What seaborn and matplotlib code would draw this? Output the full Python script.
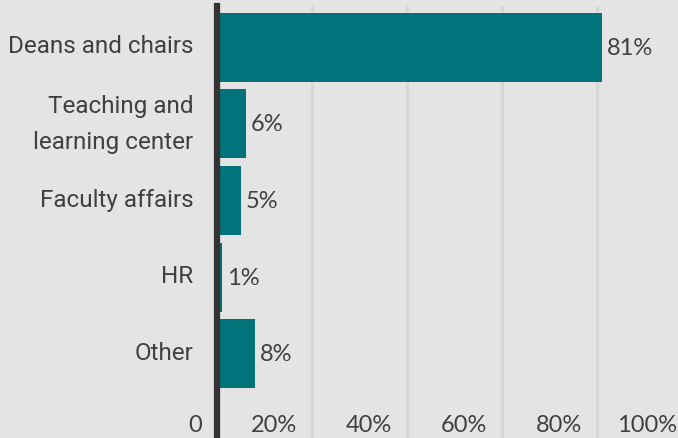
import matplotlib
matplotlib.use("Agg")
import matplotlib.pyplot as plt
import matplotlib.transforms as mtransforms
import pandas as pd
import seaborn as sns

# data
categories = ["Deans and chairs", "Teaching and\nlearning center", "Faculty affairs", "HR", "Other"]
shares = [81, 6, 5, 1, 8]
x_ticks = [0, 20, 40, 60, 80, 100]
x_tick_labels = ["0", "20%", "40%", "60%", "80%", "100%"]

df = pd.DataFrame({"category": categories, "share": shares})

bg = "#e4e4e4"
teal = "#02737a"
text_col = "#404040"

sns.set_theme(style="white")
plt.rcParams["font.family"] = ["Roboto", "DejaVu Sans"]

fig = plt.figure(figsize=(6.78, 4.39), dpi=100, facecolor=bg)
W, H = 678, 439
ax = fig.add_axes([217 / W, 0, 475 / W, (439 - 7) / H])
ax.set_facecolor(bg)

sns.barplot(data=df, x="share", y="category", color=teal, width=0.9,
            saturation=1, linewidth=0, edgecolor="none", ax=ax, zorder=3)

ax.set_xlim(0, 100)
ax.set_ylim(5.1, -0.54)
ax.set_xlabel("")
ax.set_ylabel("")

# gridlines and x labels (drawn inside the plot area, left of each line)
ax.set_xticks(x_ticks)
ax.set_xticklabels(x_tick_labels, fontfamily="Lato", fontsize=17, color=text_col)
ax.grid(axis="x", color="#d6d6d6", linewidth=2, zorder=0)
ax.tick_params(axis="x", length=0, pad=-2)
offset = mtransforms.ScaledTranslation(-15 / 100, 0, fig.dpi_scale_trans)
for lab in ax.get_xticklabels():
    lab.set_horizontalalignment("right")
    lab.set_verticalalignment("bottom")
    lab.set_transform(lab.get_transform() + offset)
    lab.set_zorder(5)

ax.tick_params(axis="y", length=0, pad=17, labelsize=17.5, labelcolor=text_col)
lift = mtransforms.ScaledTranslation(0, 4 / 100, fig.dpi_scale_trans)
for lab in ax.get_yticklabels():
    if "\n" in lab.get_text():
        lab.set_linespacing(1.72)
        lab.set_verticalalignment("center")
    else:
        lab.set_transform(lab.get_transform() + lift)

for s in ["top", "right", "bottom"]:
    ax.spines[s].set_visible(False)
ax.spines["left"].set_color("#333333")
ax.spines["left"].set_linewidth(4.5)
ax.spines["left"].set_zorder(6)

# value labels
for i, v in enumerate(shares):
    ax.annotate(f"{v}%", xy=(v, i), xytext=(3.5, 0), textcoords="offset points",
                ha="left", va="center", fontfamily="Lato", fontsize=17,
                color=text_col)

fig.savefig("out.png", dpi=100, facecolor=bg)
